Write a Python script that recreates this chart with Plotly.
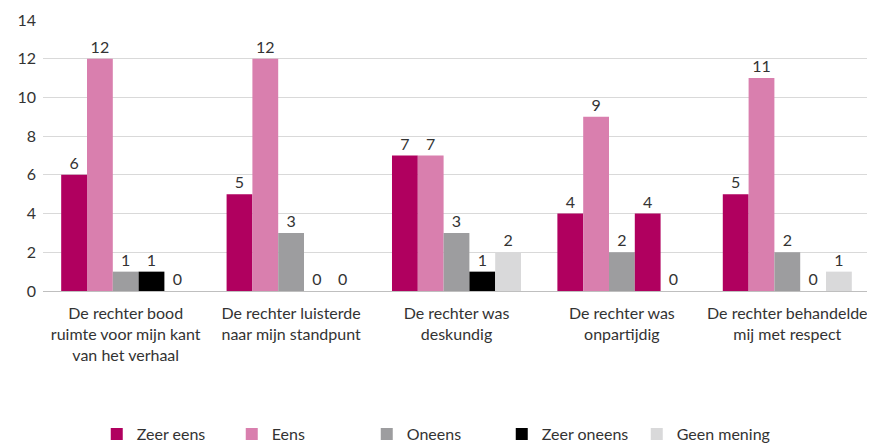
import plotly.graph_objects as go

categories = [
    "De rechter bood<br>ruimte voor mijn kant<br>van het verhaal",
    "De rechter luisterde<br>naar mijn standpunt",
    "De rechter was<br>deskundig",
    "De rechter was<br>onpartijdig",
    "De rechter behandelde<br>mij met respect",
]
series_names = ["Zeer eens", "Eens", "Oneens", "Zeer oneens", "Geen mening"]
zeer_eens = [6, 5, 7, 4, 5]
eens = [12, 12, 7, 9, 11]
oneens = [1, 3, 3, 2, 2]
zeer_oneens = [1, 0, 1, 4, 0]
geen_mening = [0, 0, 2, 0, 1]
values = [zeer_eens, eens, oneens, zeer_oneens, geen_mening]
colors = ["#B0005F", "#D97FAE", "#9D9D9F", "#000000", "#D9D9DA"]
# In the reference, the "Zeer oneens" bar of "onpartijdig" is drawn in magenta
bar_colors = [
    [colors[0]] * 5,
    [colors[1]] * 5,
    [colors[2]] * 5,
    [colors[3], colors[3], colors[3], colors[0], colors[3]],
    [colors[4]] * 5,
]

fig = go.Figure()
for name, vals, col, bcols in zip(series_names, values, colors, bar_colors):
    fig.add_trace(go.Bar(
        x=categories, y=vals, name=name,
        marker=dict(color=bcols, line=dict(width=0)),
        text=[str(v) for v in vals], textposition="outside",
        textfont=dict(color="#333333", size=16),
        cliponaxis=False,
    ))

fig.update_layout(
    width=867, height=436,
    barmode="group", bargap=0.22, bargroupgap=0,
    plot_bgcolor="white", paper_bgcolor="white",
    font=dict(family="Lato, Noto Sans, sans-serif", size=16, color="#333333"),
    margin=dict(l=35, r=5, t=12, b=153, autoexpand=False),
    showlegend=True,
    legend=dict(
        orientation="h", x=0.065, xanchor="left", y=-0.465, yanchor="top",
        entrywidth=90, entrywidthmode="pixels",
        font=dict(size=16, color="#333333"),
        itemclick=False,
    ),
    yaxis=dict(
        range=[0, 14], dtick=2, showgrid=True, gridcolor="#D9D9D9", gridwidth=1,
        zeroline=True, zerolinecolor="#BFBFBF", zerolinewidth=1,
        tickfont=dict(size=16, color="#333333"), ticks="", ticklen=0,
        ticklabelstandoff=6, automargin=False,
    ),
    xaxis=dict(
        showgrid=False, showline=True, linecolor="#BFBFBF", ticks="",
        tickfont=dict(size=16, color="#333333"), automargin=False,
        ticklabelstandoff=8,
    ),
)
fig.write_html("out.html")
